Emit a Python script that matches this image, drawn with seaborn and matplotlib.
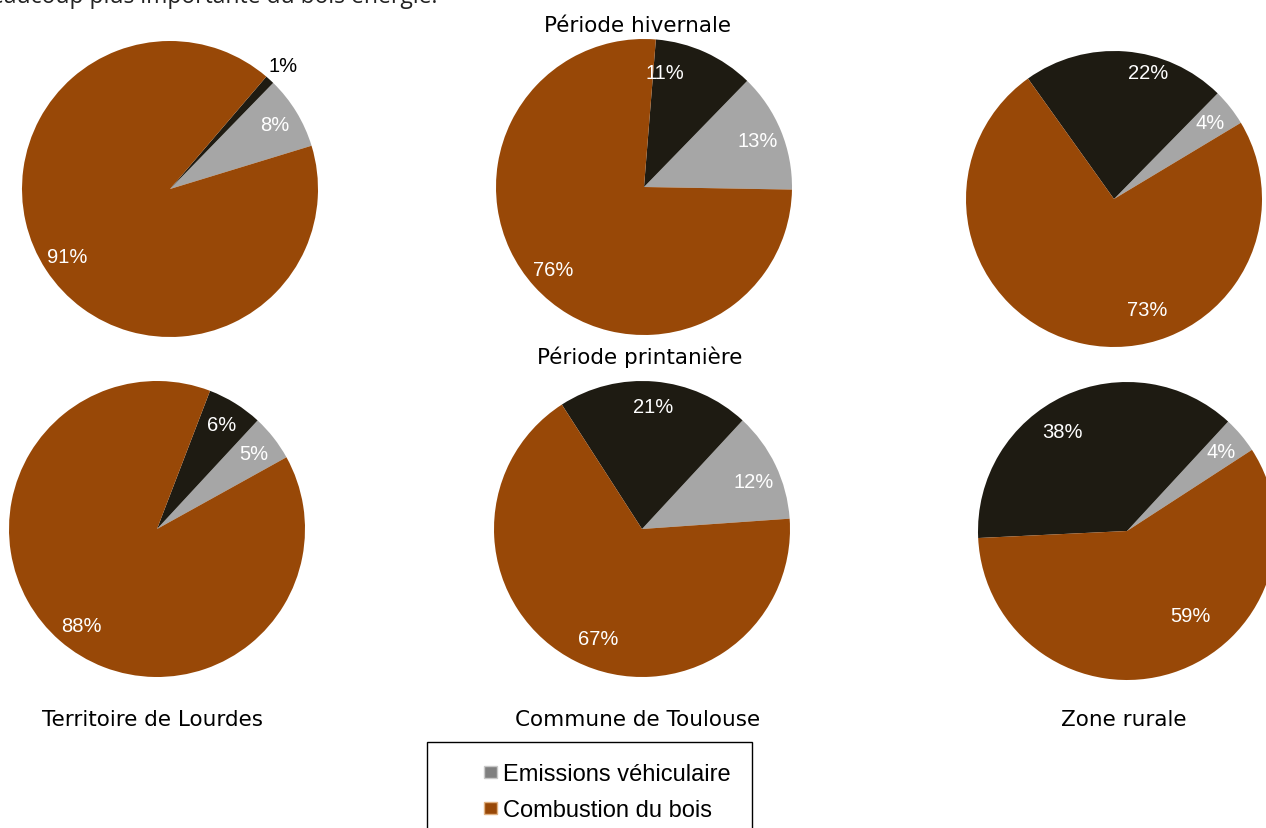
import matplotlib
matplotlib.use("Agg")
import matplotlib.pyplot as plt
from matplotlib.patches import Patch, Rectangle
import numpy as np
import seaborn as sns

sns.set_theme(style="white")
plt.rcParams['font.family'] = ['Liberation Sans', 'DejaVu Sans']

# ---- data ----
sources = ["Emissions véhiculaire", "Autres sources", "Combustion du bois"]
colors = ["#A6A6A6", "#1E1B12", "#984807"]
row_titles = ["Période hivernale", "Période printanière"]
sites = ["Territoire de Lourdes", "Commune de Toulouse", "Zone rurale"]
hiver_vehic = [8, 13, 4]
hiver_autres = [1, 11, 22]
hiver_bois = [91, 76, 73]
print_vehic = [5, 12, 4]
print_autres = [6, 21, 38]
print_bois = [88, 67, 59]

W, H = 1266, 829
fig = plt.figure(figsize=(W / 100, H / 100), dpi=100)

# pie layout (pixel centre x, centre y from top, radius, start angle)
layout = [
    [(170, 190, 148, 17), (644, 188, 148, -1), (1114, 200, 148, 31)],
    [(157, 530, 148, 29), (642, 530, 148, 4), (1127, 532, 149, 33)],
]
# label placements (best-fit style) in pie-radius units: (row, col, slice) -> (x, y)
label_place = {
    (0, 1, 1): (0.142, 0.777),
    (0, 2, 1): (0.230, 0.858),
    (0, 2, 2): (0.223, -0.750),
    (1, 0, 2): (-0.514, -0.655),
    (1, 1, 0): (0.757, 0.318),
    (1, 1, 2): (-0.297, -0.743),
    (1, 2, 1): (-0.430, 0.671),
    (1, 2, 2): (0.423, -0.570),
}
rows = [
    (hiver_vehic, hiver_autres, hiver_bois),
    (print_vehic, print_autres, print_bois),
]

for r in range(2):
    for c in range(3):
        cx, cy, rad, start = layout[r][c]
        vals = [rows[r][0][c], rows[r][1][c], rows[r][2][c]]
        ax = fig.add_axes([(cx - rad) / W, 1 - (cy + rad) / H, 2 * rad / W, 2 * rad / H])
        wedges, texts = ax.pie(vals, colors=colors, startangle=start, counterclock=True,
                               labels=[f"{v}%" for v in vals], labeldistance=0.83,
                               wedgeprops=dict(linewidth=0),
                               textprops=dict(color="white", fontsize=14.5, ha="center", va="center"))
        for i, (w, t, v) in enumerate(zip(wedges, texts, vals)):
            if v <= 2:
                ang = np.deg2rad((w.theta1 + w.theta2) / 2)
                t.set_position((1.13 * np.cos(ang), 1.13 * np.sin(ang)))
                t.set_color("black")
            elif (r, c, i) in label_place:
                t.set_position(label_place[(r, c, i)])
        ax.set_xlim(-1, 1)
        ax.set_ylim(-1, 1)
        ax.set_aspect("equal")
        ax.axis("off")

title_font = ["DejaVu Sans"]
# row titles
fig.text(638 / W, 1 - 31.5 / H, row_titles[0], ha="center", va="baseline", fontsize=15.5,
         color="black", family=title_font)
fig.text(640 / W, 1 - 364.5 / H, row_titles[1], ha="center", va="baseline", fontsize=15.5,
         color="black", family=title_font)

# site labels
for x, s in zip([153, 638, 1124], sites):
    fig.text(x / W, 1 - 726.5 / H, s, ha="center", va="baseline", fontsize=15.5,
             color="black", family=title_font)

# cropped sentence from the page above
fig.text(437 / W, 1 - 3 / H, "beaucoup plus importante du bois énergie.", ha="right",
         va="baseline", fontsize=16.5, color="#222222", family=["Open Sans", "DejaVu Sans"])

# legend box
fig.patches.append(Rectangle((427 / W, -0.05), (752 - 427) / W, (829 - 743) / H + 0.05,
                             transform=fig.transFigure, fill=False, edgecolor="black",
                             linewidth=1.0, clip_on=False))
handles = [Patch(facecolor="#7F7F7F", edgecolor="#C8C8C8"),
           Patch(facecolor=colors[2], edgecolor="#E0B080")]
fig.legend(handles, [sources[0], sources[2]], loc="upper left",
           bbox_to_anchor=(484 / W, 1 - 764 / H), frameon=False, fontsize=17,
           labelcolor="black",
           handlelength=0.55, handleheight=0.4, handletextpad=0.25, labelspacing=0.6,
           borderpad=0, borderaxespad=0)

fig.savefig("out.png", dpi=100)
